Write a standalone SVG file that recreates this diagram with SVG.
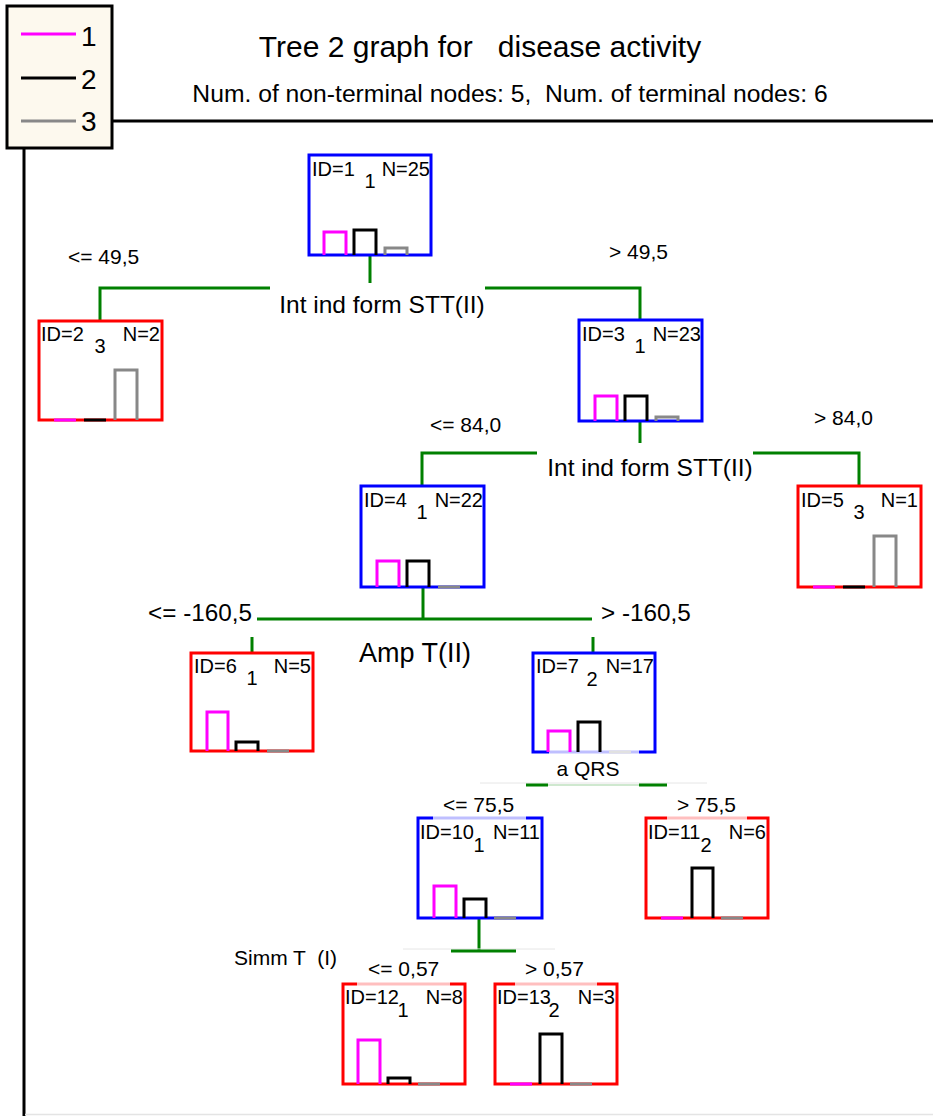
<svg xmlns="http://www.w3.org/2000/svg" width="933" height="1116" viewBox="0 0 933 1116">
<style>
text{font-family:"Liberation Sans",Arial,sans-serif;fill:#000}
.t{font-size:20px}
.e{text-anchor:end}
.m{text-anchor:middle}
.bb{fill:#fff;stroke:#0000ff;stroke-width:3}
.rb{fill:#fff;stroke:#ff0000;stroke-width:3}
.b1{fill:none;stroke:#ff00ff;stroke-width:3}
.b2{fill:none;stroke:#000;stroke-width:3}
.b3{fill:none;stroke:#888;stroke-width:3}
.c{fill:none;stroke:#008000;stroke-width:3}
.lab{font-size:21px}
.big{font-size:24.5px}
.veil{fill:#fff;opacity:0.75}
</style>
<rect x="0" y="0" width="933" height="1116" fill="#fff"/>
<g id="frame">
<line x1="112" y1="121" x2="933" y2="121" stroke="#000" stroke-width="3"/>
<line x1="24" y1="148" x2="24" y2="1116" stroke="#000" stroke-width="3"/>
<line x1="25" y1="1114.5" x2="933" y2="1114.5" stroke="#e4e4e4" stroke-width="1.5"/>
</g>
<g id="legend">
<rect x="7" y="6" width="105" height="142" fill="#fdf9ee" stroke="#000" stroke-width="3"/>
<line x1="21" y1="34" x2="76" y2="34" stroke="#ff00ff" stroke-width="3"/>
<line x1="21" y1="78" x2="76" y2="78" stroke="#000" stroke-width="3"/>
<line x1="21" y1="121" x2="76" y2="121" stroke="#888" stroke-width="3"/>
<text x="81" y="46" font-size="28">1</text>
<text x="81" y="89" font-size="28">2</text>
<text x="81" y="131" font-size="28">3</text>
</g>
<g id="title">
<text x="480" y="57" font-size="30" class="m" xml:space="preserve">Tree 2 graph for   disease activity</text>
<text x="510" y="102" font-size="24.7" class="m" xml:space="preserve">Num. of non-terminal nodes: 5,  Num. of terminal nodes: 6</text>
</g>
<g id="connectors">
<path class="c" d="M370 256 V283"/>
<path class="c" d="M100 321 V288 H270"/>
<path class="c" d="M485 288 H640 V320"/>
<path class="c" d="M640 421 V443"/>
<path class="c" d="M422 486 V453 H537"/>
<path class="c" d="M753 453 H859 V486"/>
<path class="c" d="M423 587 V619"/>
<path class="c" d="M257 619 H592"/>
<path class="c" d="M252 637 V653"/>
<path class="c" d="M593 637 V653"/>
<line x1="480" y1="783" x2="707" y2="783" stroke="#e6e6e6" stroke-width="1"/>
<path class="c" d="M526 785 H548 M639 785 H667"/>
<path d="M548 785 H639" stroke="#cfe8cf" stroke-width="2" fill="none"/>
<path class="c" d="M479 918 V951"/>
<line x1="403" y1="949" x2="555" y2="949" stroke="#e6e6e6" stroke-width="1"/>
<path class="c" d="M451 951 H516"/>
</g>
<g id="labels">
<text x="68" y="264" class="lab">&lt;= 49,5</text>
<text x="609" y="259" class="lab">&gt; 49,5</text>
<text x="382" y="313" class="big m">Int ind form STT(II)</text>
<text x="430" y="432" class="lab">&lt;= 84,0</text>
<text x="814" y="425" class="lab">&gt; 84,0</text>
<text x="650" y="476" class="big m">Int ind form STT(II)</text>
<text x="148" y="621" font-size="24.3">&lt;= -160,5</text>
<text x="601" y="621" font-size="24.3">&gt; -160,5</text>
<text x="415" y="662" font-size="27" class="m">Amp T(II)</text>
<text x="588" y="776" class="lab m">a QRS</text>
<text x="443" y="812" class="lab">&lt;= 75,5</text>
<text x="677" y="812" class="lab">&gt; 75,5</text>
<text x="234" y="965" class="lab" xml:space="preserve">Simm T  (I)</text>
<text x="368" y="976" class="lab">&lt;= 0,57</text>
<text x="525" y="976" class="lab">&gt; 0,57</text>
</g>
<g id="node1">
<rect class="bb" x="309" y="155" width="122" height="100"/>
<path class="b1" d="M324 255 V232 H346 V255"/>
<path class="b2" d="M354 255 V230 H376 V255"/>
<path class="b3" d="M385 255 V248 H407 V255"/>
<text class="t" x="312" y="176">ID=1</text>
<text class="t m" x="370" y="188">1</text>
<text class="t e" x="430" y="176">N=25</text>
</g>
<g id="node2">
<rect class="rb" x="39" y="321" width="123" height="99"/>
<path class="b1" d="M54 420 H76"/>
<path class="b2" d="M84 420 H106"/>
<path class="b3" d="M115 420 V370 H137 V420"/>
<text class="t" x="41" y="341">ID=2</text>
<text class="t m" x="100" y="353">3</text>
<text class="t e" x="160" y="341">N=2</text>
</g>
<g id="node3">
<rect class="bb" x="579" y="320" width="123" height="101"/>
<path class="b1" d="M595 421 V396 H617 V421"/>
<path class="b2" d="M625 421 V396 H647 V421"/>
<path class="b3" d="M656 421 V417 H678 V421"/>
<text class="t" x="582" y="341">ID=3</text>
<text class="t m" x="640" y="353">1</text>
<text class="t e" x="701" y="341">N=23</text>
</g>
<g id="node4">
<rect class="bb" x="361" y="486" width="123" height="101"/>
<path class="b1" d="M377 587 V561 H399 V587"/>
<path class="b2" d="M407 587 V561 H429 V587"/>
<path class="b3" d="M438 587 H460"/>
<text class="t" x="364" y="507">ID=4</text>
<text class="t m" x="422" y="519">1</text>
<text class="t e" x="483" y="507">N=22</text>
</g>
<g id="node5">
<rect class="rb" x="798" y="486" width="123" height="101"/>
<path class="b1" d="M813 587 H835"/>
<path class="b2" d="M843 587 H865"/>
<path class="b3" d="M874 587 V536 H896 V587"/>
<text class="t" x="801" y="507">ID=5</text>
<text class="t m" x="859" y="519">3</text>
<text class="t e" x="918" y="507">N=1</text>
</g>
<g id="node6">
<rect class="rb" x="191" y="653" width="122" height="98"/>
<path class="b1" d="M207 751 V712 H228 V751"/>
<path class="b2" d="M236 751 V742 H258 V751"/>
<path class="b3" d="M267 751 H289"/>
<text class="t" x="194" y="673">ID=6</text>
<text class="t m" x="252" y="685">1</text>
<text class="t e" x="311" y="673">N=5</text>
</g>
<g id="node7">
<rect class="bb" x="533" y="653" width="122" height="99"/>
<path class="b3" d="M609 752 H631"/>
<rect class="veil" x="549" y="750" width="90" height="4"/>
<path class="b1" d="M548 752 V731 H570 V752"/>
<path class="b2" d="M578 752 V722 H600 V752"/>
<text class="t" x="536" y="673">ID=7</text>
<text class="t m" x="592" y="686">2</text>
<text class="t e" x="654" y="673">N=17</text>
</g>
<g id="node10">
<rect class="bb" x="418" y="818" width="124" height="100"/>
<rect class="veil" x="433" y="816" width="93" height="4"/>
<path class="b1" d="M434 918 V886 H456 V918"/>
<path class="b2" d="M464 918 V899 H486 V918"/>
<path class="b3" d="M494 918 H516"/>
<text class="t" x="420" y="839">ID=10</text>
<text class="t m" x="479" y="852">1</text>
<text class="t e" x="540" y="839">N=11</text>
</g>
<g id="node11">
<rect class="rb" x="646" y="818" width="122" height="100"/>
<rect class="veil" x="667" y="816" width="80" height="4"/>
<path class="b1" d="M661 918 H683"/>
<path class="b2" d="M692 918 V868 H713 V918"/>
<path class="b3" d="M721 918 H743"/>
<text class="t" x="648" y="839">ID=11</text>
<text class="t m" x="706" y="852">2</text>
<text class="t e" x="766" y="839">N=6</text>
</g>
<g id="node12">
<rect class="rb" x="343" y="984" width="122" height="100"/>
<rect class="veil" x="357" y="982" width="93" height="4"/>
<path class="b1" d="M358 1084 V1040 H380 V1084"/>
<path class="b2" d="M388 1084 V1078 H410 V1084"/>
<path class="b3" d="M418 1084 H440"/>
<text class="t" x="345" y="1004">ID=12</text>
<text class="t m" x="403" y="1017">1</text>
<text class="t e" x="463" y="1004">N=8</text>
</g>
<g id="node13">
<rect class="rb" x="495" y="984" width="122" height="100"/>
<rect class="veil" x="515" y="982" width="82" height="4"/>
<path class="b1" d="M510 1084 H532"/>
<path class="b2" d="M540 1084 V1034 H562 V1084"/>
<path class="b3" d="M570 1084 H592"/>
<text class="t" x="497" y="1004">ID=13</text>
<text class="t m" x="554" y="1017">2</text>
<text class="t e" x="615" y="1004">N=3</text>
</g>
</svg>
